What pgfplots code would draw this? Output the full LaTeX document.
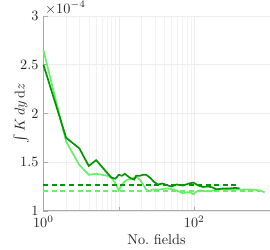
\documentclass[border=0pt]{standalone}
\usepackage{pgfplots}
\pgfplotsset{compat=1.18}
\definecolor{dkg}{RGB}{0,150,0}
\definecolor{ltg}{RGB}{102,240,102}
\definecolor{axg}{RGB}{170,170,170}
\definecolor{txt}{RGB}{38,38,38}
\begin{document}
\begin{tikzpicture}
\begin{axis}[
  name=ax,
  scale only axis,
  width=159pt, height=137pt,
  xmode=log,
  xmin=1, xmax=1000,
  ymin=1, ymax=3,
  axis lines*=left,
  axis line style={axg, line width=0.5pt},
  tick style={axg},
  tick align=inside,
  major tick length=3pt,
  minor tick length=0pt,
  xtick={1,10,100},
  xticklabels={$10^0$,,$10^2$},
  ytick={1,1.5,2,2.5,3},
  yticklabels={1,1.5,2,2.5,3},
  grid=both,
  major grid style={gray!15, line width=0.4pt},
  minor grid style={gray!10, line width=0.3pt},
  yminorgrids=false,
  ticklabel style={text=txt, font=\normalsize},
  label style={text=txt, font=\normalsize},
  xlabel={No.\ fields},
  ylabel={$\int K\,dy\,\mathrm{d}z$},
  xlabel style={yshift=2pt},
  ylabel style={yshift=-13pt},
  clip=false,
]
\addplot[ltg, line width=1.2pt] coordinates {
(1,2.65)(2,1.71)(3,1.47)(4,1.37)(5,1.38)(6,1.37)(7,1.36)(8,1.34)(9,1.28)(10,1.21)
(11,1.27)(12,1.30)(13,1.32)(15,1.33)(17,1.35)(19,1.32)(21,1.27)(23,1.22)(25,1.20)
(28,1.22)(35,1.22)(43,1.23)(53,1.22)(62,1.20)(71,1.18)(80,1.19)(88,1.19)(97,1.17)
(108,1.20)(119,1.21)(140,1.20)(161,1.20)(198,1.22)(268,1.22)(330,1.215)(400,1.22)
(545,1.22)(650,1.215)(737,1.21)(860,1.19)};
\addplot[dkg, line width=1.2pt] coordinates {
(1,2.50)(2,1.75)(3,1.64)(4,1.46)(5,1.52)(6,1.45)(7,1.39)(8,1.34)(9,1.33)(10,1.37)
(11,1.36)(12,1.38)(14,1.34)(16,1.32)(17,1.36)(19,1.36)(21,1.37)(23,1.37)(26,1.34)
(29,1.30)(33,1.27)(38,1.28)(45,1.26)(50,1.25)(58,1.27)(71,1.26)(85,1.28)(97,1.29)
(113,1.26)(131,1.245)(153,1.25)(175,1.24)(198,1.22)(241,1.23)(296,1.23)(350,1.235)(400,1.23)};
\addplot[dkg, line width=1.2pt, dash pattern=on 3.5pt off 2.5pt] coordinates {(1,1.266)(400,1.266)};
\addplot[ltg, line width=1.2pt, dash pattern=on 3.5pt off 2.5pt] coordinates {(1,1.205)(860,1.205)};
\node[anchor=south west, text=txt, font=\normalsize, inner sep=1pt] at (rel axis cs:0,1) {$\times10^{-4}$};
\end{axis}
\path ([xshift=-30.5pt]ax.south west);
\end{tikzpicture}
\end{document}
